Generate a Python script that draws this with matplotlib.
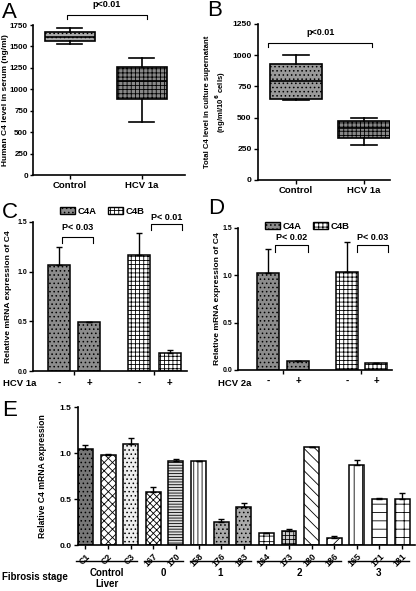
import matplotlib
matplotlib.use("Agg")
import matplotlib.pyplot as plt
from matplotlib.patches import Patch
import numpy as np

plt.rcParams["font.family"] = ["Liberation Sans", "DejaVu Sans"]
plt.rcParams["font.weight"] = "bold"
plt.rcParams["axes.labelweight"] = "bold"
plt.rcParams["hatch.linewidth"] = 0.6

# DATA
# A: serum C4 (ng/ml) box stats: whislo, q1, med, q3, whishi
box_groups = ["Control", "HCV 1a"]
a_control = [1530, 1560, 1615, 1670, 1710]
a_hcv = [620, 890, 1100, 1260, 1370]
a_ticks = [0, 250, 500, 750, 1000, 1250, 1500, 1750]

# B: culture supernatant C4 (ng/ml/10^6 cells)
b_control = [640, 650, 790, 930, 1000]
b_hcv = [280, 340, 415, 470, 500]
b_ticks = [0, 250, 500, 750, 1000, 1250]

# C / D: relative mRNA expression of C4A / C4B, without (-) and with (+) virus
cd_series = ["C4A", "C4B"]
cd_signs = ["-", "+", "-", "+"]
c_values = [1.07, 0.49, 1.17, 0.18]
c_err = [0.18, 0.0, 0.22, 0.03]
c_pvals = ["P< 0.03", "P< 0.01"]
d_values = [1.02, 0.09, 1.04, 0.07]
d_err = [0.26, 0.01, 0.31, 0.005]
d_pvals = ["P< 0.02", "P< 0.03"]
cd_ticks = [0.0, 0.5, 1.0, 1.5]

# E: relative C4 mRNA expression per liver sample
e_samples = ["C1", "C2", "C3", "167", "170", "158", "176", "183",
             "164", "173", "180", "186", "165", "171", "181"]
e_values = [1.04, 0.98, 1.10, 0.58, 0.91, 0.91, 0.25, 0.41,
            0.13, 0.15, 1.06, 0.08, 0.87, 0.50, 0.50]
e_err = [0.05, 0.01, 0.06, 0.05, 0.03, 0.0, 0.03, 0.05,
         0.005, 0.02, 0.01, 0.02, 0.05, 0.01, 0.06]
e_stage_names = ["Control\nLiver", "0", "1", "2", "3"]
e_stage_sizes = [3, 2, 3, 4, 3]

# STYLE
W, H = 416, 591
TICK_FS = 6.1
PANEL_FS = 16
e_styles = [("#777777", "...."), ("white", "xxxx"), ("#eeeeee", "...."),
            ("white", "xxxxx"), ("#dddddd", "------"), ("white", "||||"),
            ("#aaaaaa", "...."), ("#aaaaaa", "...."), ("white", "+++"),
            ("#cccccc", "++++"), ("white", "\\\\\\"), ("white", "///"),
            ("white", "||"), ("white", "--"), ("white", "++")]

fig = plt.figure(figsize=(W / 100, H / 100), dpi=100)
fig.patch.set_facecolor("white")


def px_axes(l, t, r, b):
    return fig.add_axes([l / W, 1 - b / H, (r - l) / W, (b - t) / H])


def style_axes(ax, fs=TICK_FS, pad=1.5):
    for s in ["top", "right"]:
        ax.spines[s].set_visible(False)
    for s in ["left", "bottom"]:
        ax.spines[s].set_linewidth(1.2)
    ax.tick_params(direction="out", length=3, width=1, labelsize=fs, pad=pad)


def bracket(ax, x1, x2, y, h, text, ty, fs=6.5):
    ax.plot([x1, x1, x2, x2], [y - h, y, y, y - h], color="k", lw=0.8, clip_on=False)
    ax.text((x1 + x2) / 2, ty, text, ha="center", va="center", fontsize=fs, clip_on=False)


def box_stats(v, label):
    return dict(whislo=v[0], q1=v[1], med=v[2], q3=v[3], whishi=v[4], fliers=[], label=label)


def box_panel(ax, ctrl, hcv, width, styles):
    bp = ax.bxp([box_stats(ctrl, box_groups[0]), box_stats(hcv, box_groups[1])],
                positions=[1, 2], widths=width, patch_artist=True, showfliers=False,
                medianprops=dict(color="k", lw=1.2),
                whiskerprops=dict(color="k", lw=1.2),
                capprops=dict(color="k", lw=1.2),
                boxprops=dict(edgecolor="k", lw=1.2))
    for patch, (fc, hatch) in zip(bp["boxes"], styles):
        patch.set_facecolor(fc)
        patch.set_hatch(hatch)
    ax.set_xticks([1, 2], box_groups)
    ax.tick_params(axis="x", labelsize=6.8)


# PANEL A
axA = px_axes(33, 25, 185, 175)
style_axes(axA, fs=5.8, pad=1.2)
axA.tick_params(axis="y", length=2.5)
box_panel(axA, a_control, a_hcv, 0.69, [("#aaaaaa", "...."), ("#888888", "++++")])
axA.set_xlim(0.49, 2.6)
axA.set_ylim(0, 1750)
axA.set_yticks(a_ticks)
axA.set_ylabel("Human C4 level in serum (ng/ml)", fontsize=6.0)
axA.yaxis.set_label_coords(-0.158, 0.5)
bracket(axA, 0.96, 2.07, 1866, 45, "p<0.01", 1985)

# PANEL B
axB = px_axes(258, 24, 390, 180)
style_axes(axB)
box_panel(axB, b_control, b_hcv, 0.76, [("#999999", "...."), ("#888888", "++++")])
axB.set_xlim(0.44, 2.38)
axB.set_ylim(0, 1250)
axB.set_yticks(b_ticks)
axB.set_ylabel("Total C4 level in culture supernatant\n(ng/ml/10$^{\\mathbf{6}}$ cells)",
               fontsize=5.6, linespacing=1.3)
axB.yaxis.set_label_coords(-0.227, 0.5)
bracket(axB, 0.59, 2.12, 1098, 32, "p<0.01", 1178)


# PANELS C / D
def bar_panel(ax, values, err, pos, xlim, virus, virus_x, brackets, legend_xy,
              tick_pos, label_x):
    style_axes(ax, fs=5, pad=1)
    bar_styles = [("#8c8c8c", "...."), ("#8c8c8c", "...."),
                  ("white", "++++"), ("white", "++++")]
    for p, v, (fc, hatch) in zip(pos, values, bar_styles):
        ax.bar(p, v, width=0.73, color=fc, hatch=hatch, edgecolor="k", lw=1.1, zorder=2)
    ax.errorbar(pos, values, yerr=[np.zeros(len(err)), err], fmt="none",
                ecolor="k", elinewidth=1, capsize=2.5, capthick=1, zorder=3)
    ax.set_xlim(*xlim)
    ax.set_ylim(0, 1.5)
    ax.set_yticks(cd_ticks)
    ax.set_xticks(tick_pos, ["", ""])
    ax.set_ylabel("Relative mRNA expression of C4", fontsize=6.1)
    ax.yaxis.set_label_coords(label_x, 0.5)
    tr = ax.get_xaxis_transform()
    for p, s in zip(pos, cd_signs):
        ax.text(p, -0.08, s, transform=tr, ha="center", va="center", fontsize=7)
    fig.text(virus_x / W, 1 - 383 / H, virus, ha="left", va="center", fontsize=6.8)
    for (x1, x2, y, h, ty), txt in brackets:
        bracket(ax, x1, x2, y, h, txt, ty)
    handles = [Patch(facecolor=fc, hatch=h, edgecolor="k", lw=1)
               for fc, h in [("#8c8c8c", "...."), ("white", "++++")]]
    ax.legend(handles, cd_series, loc="center", bbox_to_anchor=legend_xy, ncol=2,
              frameon=False, fontsize=6.8, handlelength=1.6, handleheight=0.8,
              handletextpad=0.3, columnspacing=1.2, borderpad=0)


axC = px_axes(33, 222, 187, 371)
bar_panel(axC, c_values, c_err, np.array([0, 1, 2.67, 3.7]), (-0.87, 4.27),
          "HCV 1a", 3,
          [((0.1, 1.13, 1.35, 0.06, 1.44), c_pvals[0]),
           ((3.07, 4.1, 1.48, 0.06, 1.55), c_pvals[1])],
          (0.45, 1.07), [0.5, 3.18], -0.135)

axD = px_axes(238, 228, 392, 370)
bar_panel(axD, d_values, d_err, np.array([0, 1, 2.63, 3.6]), (-1.0, 4.13),
          "HCV 2a", 218,
          [((0.23, 1.33, 1.32, 0.07, 1.40), d_pvals[0]),
           ((2.97, 4.0, 1.32, 0.07, 1.40), d_pvals[1])],
          (0.45, 1.01), [0.5, 3.1], -0.112)

# PANEL E
axE = px_axes(78, 407, 415, 545)
style_axes(axE)
x = np.arange(len(e_samples))
for xi, v, (fc, hatch) in zip(x, e_values, e_styles):
    axE.bar(xi, v, width=0.66, color=fc, hatch=hatch, edgecolor="k", lw=1.1, zorder=2)
axE.errorbar(x, e_values, yerr=[np.zeros(len(e_err)), e_err], fmt="none",
             ecolor="k", elinewidth=1, capsize=2.5, capthick=1, zorder=3)
axE.set_xlim(-0.33, 14.57)
axE.set_ylim(0, 1.5)
axE.set_yticks(cd_ticks)
axE.set_xticks(x, e_samples, rotation=45, ha="right", rotation_mode="anchor", fontsize=6.3)
axE.tick_params(axis="x", length=3, pad=2)
axE.set_ylabel("Relative C4 mRNA expression", fontsize=6.2)
axE.yaxis.set_label_coords(-0.092, 0.5)

trE = axE.get_xaxis_transform()
start = 0
for name, n in zip(e_stage_names, e_stage_sizes):
    x1, x2 = start - 0.4, start + n - 1 + 0.3
    axE.plot([x1, x2], [-0.116, -0.116], color="k", lw=1, transform=trE, clip_on=False)
    axE.text((x1 + x2) / 2, -0.165, name, transform=trE, ha="center", va="top",
             fontsize=7, linespacing=1.1)
    start += n
fig.text(2 / W, 1 - 577 / H, "Fibrosis stage", ha="left", va="center", fontsize=7)

# PANEL LETTERS
for letter, (px, py) in zip("ABCDE", [(2, 12), (207, 10), (2, 212), (208, 209), (2, 410)]):
    fig.text(px / W, 1 - py / H, letter, ha="left", va="center",
             fontsize=PANEL_FS, fontweight="normal")

fig.savefig("out.png", dpi=100)
